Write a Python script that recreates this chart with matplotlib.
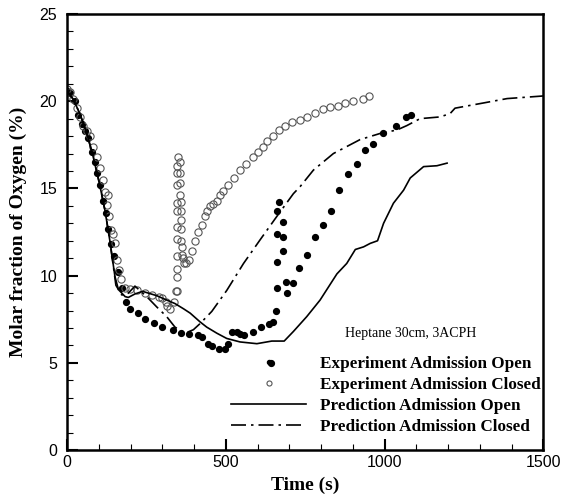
import matplotlib
matplotlib.use("Agg")
import matplotlib.pyplot as plt
from matplotlib.ticker import MultipleLocator

# Experiment, admission open (filled dots)
exp_open_t = [0, 9, 25, 36, 46, 58, 67, 78, 87, 96, 104, 112, 122, 128, 138, 149, 161, 173, 185,
              199, 223, 247, 273, 299, 333, 358, 385, 412, 424, 443, 457, 480, 497, 506, 521, 535,
              546, 557, 585, 611, 637, 641, 650, 659, 660, 660, 660, 662, 669, 680, 680, 680, 690,
              693, 713, 731, 756, 782, 806, 832, 858, 886, 914, 939, 963, 996, 1035, 1067, 1083]
exp_open_o2 = [20.6, 20.45, 20.0, 19.2, 18.7, 18.3, 17.9, 17.1, 16.5, 15.9, 15.2, 14.3, 13.6, 12.7,
               11.8, 11.1, 10.2, 9.3, 8.5, 8.1, 7.85, 7.5, 7.3, 7.05, 6.9, 6.7, 6.65, 6.6, 6.5,
               6.1, 5.95, 5.8, 5.8, 6.1, 6.75, 6.75, 6.65, 6.6, 6.75, 7.05, 7.2, 5.0, 7.35, 8.0,
               10.8, 12.4, 13.7, 9.3, 14.2, 11.4, 12.2, 13.1, 9.65, 9.0, 9.55, 10.45, 11.2, 12.2,
               12.9, 13.7, 14.9, 15.8, 16.4, 17.2, 17.55, 18.2, 18.6, 19.1, 19.2]

# Experiment, admission closed (open circles)
exp_closed_t = [0, 8, 18, 30, 40, 51, 62, 72, 83, 93, 104, 112, 120, 125, 130, 133, 139, 146, 151,
                159, 165, 170, 183, 199, 222, 246, 267, 291, 299, 312, 316, 325, 337, 343,
                346, 346, 346, 346, 346, 346, 346, 346, 346, 346, 346,
                351, 356, 356, 356, 356, 358, 358, 358, 358, 358, 361, 361, 364, 370, 375,
                383, 393, 403, 414, 424, 435, 442, 451, 461, 472, 482, 491, 508, 526, 545, 564,
                585, 600, 616, 631, 648, 669, 687, 708, 734, 757, 782, 806, 829, 852, 876, 900,
                932, 950]
exp_closed_o2 = [20.7, 20.5, 20.1, 19.6, 19.1, 18.6, 18.3, 18.0, 17.4, 16.8, 16.15, 15.5, 14.8,
                 14.05, 14.6, 13.4, 12.6, 12.4, 11.85, 10.9, 10.3, 9.8, 9.3, 9.25, 9.2, 9.0, 8.9,
                 8.8, 8.7, 8.5, 8.25, 8.1, 8.5, 9.1,
                 16.3, 15.9, 15.2, 14.15, 13.7, 12.8, 12.1, 11.1, 10.4, 9.95, 9.1,
                 16.8, 16.5, 15.9, 15.3, 14.6, 14.2, 13.7, 13.2, 12.65, 12.0, 11.65, 11.2, 11.0,
                 10.7, 10.7,
                 10.9, 11.4, 12.0, 12.5, 12.9, 13.4, 13.7, 14.0, 14.1, 14.3, 14.6, 14.85, 15.2,
                 15.6, 16.05, 16.4, 16.8, 17.1, 17.4, 17.7, 18.0, 18.35, 18.6, 18.8, 18.9, 19.1,
                 19.35, 19.55, 19.65, 19.75, 19.9, 20.0, 20.15, 20.3]

# Prediction, admission open (solid line)
pred_open_t = [0, 20, 40, 60, 80, 102, 120, 135, 151, 162, 183, 193, 214, 238, 256, 283, 314,
               340, 367, 388, 419, 440, 472, 503, 545, 598, 645, 684, 713, 755, 797, 850, 881,
               908, 934, 955, 978, 997, 1028, 1060, 1081, 1123, 1165, 1197]
pred_open_o2 = [20.6, 20.1, 19.3, 18.3, 17.0, 15.3, 13.7, 12.0, 9.95, 9.2, 8.8, 8.75, 8.95, 9.1,
                9.0, 8.85, 8.6, 8.4, 8.1, 7.85, 7.35, 7.05, 6.7, 6.4, 6.2, 6.1, 6.25, 6.25, 6.8,
                7.65, 8.6, 10.1, 10.7, 11.5, 11.65, 11.85, 12.0, 13.0, 14.15, 14.9, 15.6, 16.25,
                16.3, 16.45]

# Prediction, admission closed (dash-dot line)
pred_closed_t = [0, 20, 40, 60, 80, 102, 120, 135, 154, 172, 188, 214, 251, 283, 314, 340, 372,
                 398, 419, 456, 503, 556, 608, 661, 713, 734, 776, 839, 923, 986, 1039, 1070,
                 1112, 1176, 1207, 1222, 1312, 1386, 1500]
pred_closed_o2 = [20.6, 20.1, 19.3, 18.3, 17.0, 15.3, 13.7, 12.0, 9.45, 8.9, 8.9, 9.4, 8.8, 8.2,
                  7.65, 7.05, 6.7, 6.9, 7.25, 7.95, 9.15, 10.7, 12.05, 13.4, 14.7, 15.1, 16.05,
                  17.0, 17.8, 18.15, 18.35, 18.6, 19.0, 19.1, 19.3, 19.6, 19.9, 20.15, 20.3]

serif = "Liberation Serif"
sans = "Liberation Sans"

fig = plt.figure(figsize=(5.63, 4.99), dpi=100)
ax = fig.add_axes([0.119, 0.098, 0.846, 0.874])

ax.plot(exp_open_t, exp_open_o2, "o", color="black", markersize=4.2, linestyle="none",
        label="Experiment Admission Open")
ax.plot(exp_closed_t, exp_closed_o2, "o", markerfacecolor="none", markeredgecolor="#555555",
        markeredgewidth=0.8, markersize=5.2, linestyle="none",
        label="Experiment Admission Closed")
ax.plot(pred_open_t, pred_open_o2, "-", color="black", linewidth=1.2,
        label="Prediction Admission Open")
ax.plot(pred_closed_t, pred_closed_o2, color="black", linewidth=1.2,
        dashes=[9, 3, 1.5, 3], label="Prediction Admission Closed")

ax.set_xlim(0, 1500)
ax.set_ylim(0, 25)
ax.xaxis.set_major_locator(MultipleLocator(500))
ax.xaxis.set_minor_locator(MultipleLocator(100))
ax.yaxis.set_major_locator(MultipleLocator(5))
ax.yaxis.set_minor_locator(MultipleLocator(1))
ax.tick_params(which="major", direction="in", length=8, width=1.5, labelsize=11.5,
               top=False, right=False)
ax.tick_params(axis="y", which="major", pad=7)
ax.tick_params(which="minor", direction="in", length=4, width=0.8, top=False, right=False)
for lab in ax.get_xticklabels() + ax.get_yticklabels():
    lab.set_fontfamily(sans)
for sp in ax.spines.values():
    sp.set_linewidth(1.8)

ax.set_xlabel("Time (s)", fontfamily=serif, fontweight="bold", fontsize=14, labelpad=5)
ax.set_ylabel("Molar fraction of Oxygen (%)", fontfamily=serif, fontweight="bold",
              fontsize=14, labelpad=9)

ax.text(1081, 6.7, "Heptane 30cm, 3ACPH", fontfamily=serif, fontsize=10, ha="center",
        va="center")

leg = ax.legend(loc="lower right", bbox_to_anchor=(1.016, 0.012), frameon=False,
                prop={"family": serif, "weight": "bold", "size": 12.3}, handlelength=4.4,
                labelspacing=0.28, borderpad=0.1, numpoints=1, handletextpad=0.8,
                markerscale=0.7)

fig.savefig("out.png", dpi=100)
